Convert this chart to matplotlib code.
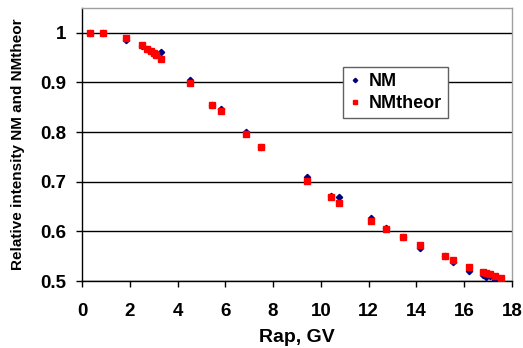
import matplotlib
matplotlib.use("Agg")
import matplotlib.pyplot as plt

plt.rcParams['font.family'] = ['Liberation Sans', 'DejaVu Sans']
plt.rcParams['font.weight'] = 'bold'

rap = [0.34, 0.88, 1.85, 2.52, 2.73, 2.9, 3.02, 3.1, 3.32, 4.5, 5.46, 5.8, 6.85, 7.48,
       9.41, 10.42, 10.76, 12.1, 12.73, 13.45, 14.16, 15.21, 15.55, 16.2, 16.8, 16.93,
       17.06, 17.3, 17.52]
nm = [1.0, 1.0, 0.985, 0.973, 0.968, 0.964, 0.96, 0.956, 0.961, 0.905, 0.855, 0.847,
      0.800, 0.770, 0.710, 0.672, 0.670, 0.627, 0.607, 0.588, 0.567, 0.550, 0.539,
      0.520, 0.512, 0.508, 0.511, 0.502, 0.500]
nmtheor = [1.0, 1.0, 0.990, 0.975, 0.968, 0.964, 0.960, 0.955, 0.948, 0.898, 0.855,
           0.842, 0.797, 0.770, 0.702, 0.670, 0.658, 0.621, 0.605, 0.588, 0.572, 0.550,
           0.542, 0.528, 0.518, 0.516, 0.514, 0.510, 0.506]

fig = plt.figure(figsize=(5.23, 3.48), dpi=100)
ax = fig.add_axes([82/523, 1-281/348, 430/523, 273/348])

ax.plot(rap, nm, linestyle='none', marker='D', markersize=3.2, color='#000080',
        label='NM', zorder=3)
ax.plot(rap, nmtheor, linestyle='none', marker='s', markersize=3.9, color='#FF0000',
        label='NMtheor', zorder=4)

ax.set_xlim(0, 18)
ax.set_ylim(0.5, 1.05)
ax.set_xticks(range(0, 19, 2))
ax.set_yticks([0.5, 0.6, 0.7, 0.8, 0.9, 1.0])
ax.set_yticklabels(['0.5', '0.6', '0.7', '0.8', '0.9', '1'])
ax.yaxis.grid(True, color='black', linewidth=1.0)
ax.set_axisbelow(True)

for s in ['top', 'right']:
    ax.spines[s].set_color('#a0a0a0')
    ax.spines[s].set_linewidth(1.0)
for s in ['left', 'bottom']:
    ax.spines[s].set_color('black')
    ax.spines[s].set_linewidth(1.0)

ax.tick_params(axis='both', direction='out', length=4.5, width=1, labelsize=13.5)
ax.tick_params(axis='x', pad=11.5)
ax.tick_params(axis='y', pad=7)
for lab in ax.get_xticklabels() + ax.get_yticklabels():
    lab.set_fontweight('bold')

ax.set_xlabel('Rap, GV', fontsize=14, fontweight='bold', labelpad=6.5)
ax.set_ylabel('Relative intensity NM and NMtheor', fontsize=11, fontweight='bold', labelpad=11)

leg = ax.legend(loc='upper left', bbox_to_anchor=(343/523, 1-67/348),
                bbox_transform=fig.transFigure, fontsize=13, frameon=True,
                fancybox=False, edgecolor='#606060', framealpha=1,
                handlelength=0.6, handletextpad=0.45, borderpad=0.35,
                labelspacing=0.25, borderaxespad=0, markerscale=0.7)
leg.get_frame().set_linewidth(1.0)
for t in leg.get_texts():
    t.set_fontweight('bold')

fig.savefig('out.png', dpi=100)
